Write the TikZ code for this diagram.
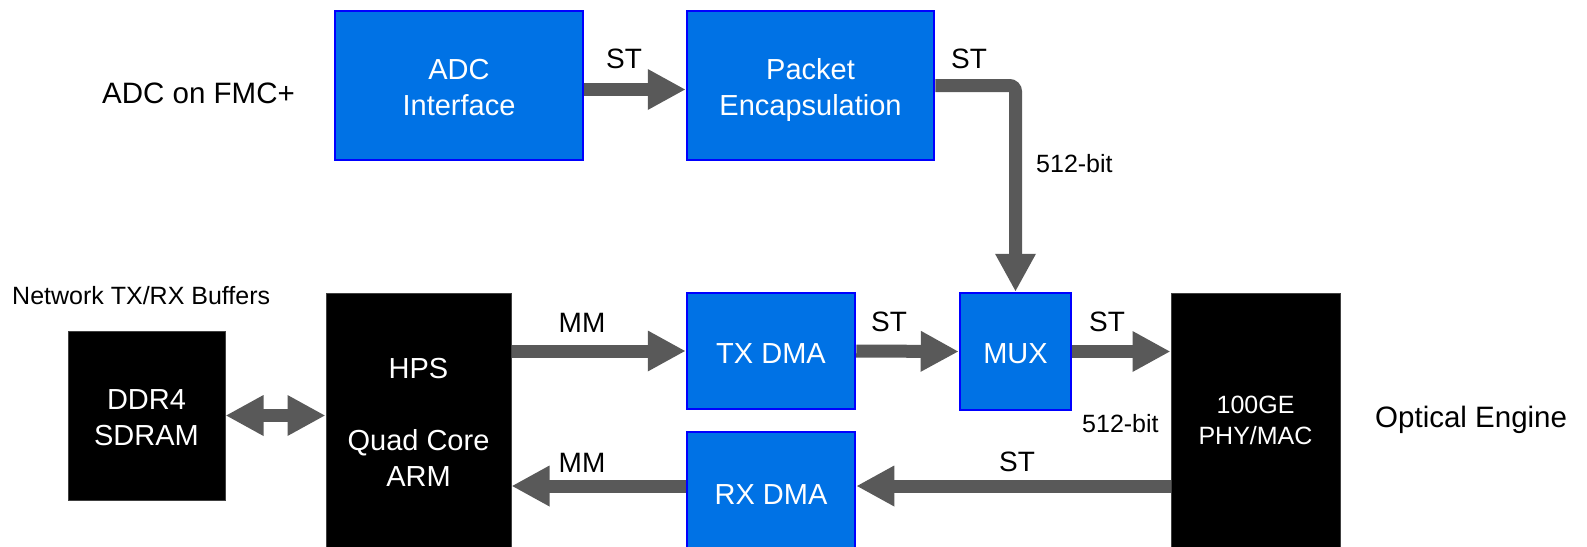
\documentclass[tikz,border=0pt]{standalone}
\usepackage{fontspec}
\setmainfont{Liberation Sans}
\usetikzlibrary{arrows.meta}

\definecolor{boxblue}{RGB}{0,114,229}
\definecolor{edgeblue}{RGB}{0,0,255}
\definecolor{flowgray}{RGB}{89,89,89}

% invisible rules that set box text slightly below the geometric centre
\newcommand\topstrut{\rule{0pt}{32.8pt}}
\newcommand\botstrut{\rule[-8pt]{0pt}{8pt}}

\tikzset{
  bluebox/.style={draw=edgeblue, fill=boxblue, line width=2.5pt, text=white,
    align=center, inner sep=0pt, font=\fontsize{29}{36}\selectfont},
  blackbox/.style={draw=black!75, fill=black, line width=1pt, text=white,
    align=center, inner sep=0pt, font=\fontsize{29}{36}\selectfont},
  flow/.style={draw=flowgray, line width=13pt,
    -{Triangle[length=38pt,width=38pt]}},
  biflow/.style={draw=flowgray, line width=13pt,
    {Triangle[length=38pt,width=38pt]}-{Triangle[length=38pt,width=38pt]}},
  lbl/.style={inner sep=0pt, font=\fontsize{28}{34}\selectfont},
  smalllbl/.style={inner sep=0pt, font=\fontsize{25}{30}\selectfont},
  sidelbl/.style={inner sep=0pt, font=\fontsize{29.5}{36}\selectfont},
}

\begin{document}
\begin{tikzpicture}[x=1pt, y=-1pt]
\useasboundingbox (0,0) rectangle (1587,546);
\clip (0,0) rectangle (1587,546);

% acquisition path
\node[bluebox, minimum width=248pt, minimum height=149pt] (adc) at (459,85.5)
  {\topstrut ADC\\Interface\botstrut};
\node[bluebox, minimum width=247pt, minimum height=149pt] (pkt) at (810.5,85.5)
  {\topstrut Packet\\Encapsulation\botstrut};

% network path
\node[blackbox, minimum width=157pt, minimum height=169pt] (ddr) at (146.5,415.5)
  {\topstrut DDR4\\SDRAM\botstrut};
\node[blackbox, minimum width=185pt, minimum height=262pt] (hps) at (418.5,424)
  {\rule{0pt}{24.8pt}HPS\\[36pt]Quad Core\\ARM\botstrut};
\node[bluebox, minimum width=168pt, minimum height=116pt] (txdma) at (771,351)
  {\topstrut TX DMA\botstrut};
\node[bluebox, minimum width=168pt, minimum height=120pt] (rxdma) at (771,492)
  {\topstrut RX DMA\botstrut};
\node[bluebox, minimum width=111pt, minimum height=117pt] (mux) at (1015.5,351.5)
  {\topstrut MUX\botstrut};
\node[blackbox, minimum width=169pt, minimum height=255pt,
      font=\fontsize{25}{31}\selectfont] (phy) at (1255.5,420.5) {100GE\\PHY/MAC};

% attachment points for the offset connectors
\coordinate (adcout) at ([yshift=-4pt]adc.east);
\coordinate (rxin)   at ([yshift=6pt]rxdma.east);
\coordinate (rxout)  at ([yshift=6pt]rxdma.west);

% connectors
\draw[flow] (adcout) -- (adcout -| pkt.west);
\draw[flow, rounded corners=6pt] (pkt.east) -| (mux.north);
\draw[flow] (hps.east |- txdma.west) -- (txdma.west);
\draw[flow] (txdma.east) -- (mux.west);
\draw[flow] (mux.east) -- (mux.east -| phy.west);
\draw[flow] (phy.west |- rxin) -- (rxin);
\draw[flow] (rxout) -- (hps.east |- rxout);
\draw[biflow] (ddr.east) -- (ddr.east -| hps.west);

% connector labels
\node[lbl, anchor=base] (st1) at (624,68) {ST};
\node[lbl, anchor=base] (st2) at (969,68) {ST};
\node[smalllbl, anchor=base west] (w1) at (1036,172) {512-bit};
\node[lbl, anchor=base] (mm1) at (582,332) {MM};
\node[lbl, anchor=base] (mm2) at (582,472) {MM};
\node[lbl, anchor=base] (st3) at (889,331) {ST};
\node[lbl, anchor=base] (st4) at (1107,331) {ST};
\node[smalllbl, anchor=base west] (w2) at (1082,432) {512-bit};
\node[lbl, anchor=base] (st5) at (1017,471) {ST};

% side captions
\node[sidelbl, anchor=base west] (fmc) at (102,103) {ADC on FMC+};
\node[smalllbl, anchor=base west] (buf) at (12,304) {Network TX/RX Buffers};
\node[sidelbl, anchor=base west] (opt) at (1375,427) {Optical Engine};
\end{tikzpicture}
\end{document}
